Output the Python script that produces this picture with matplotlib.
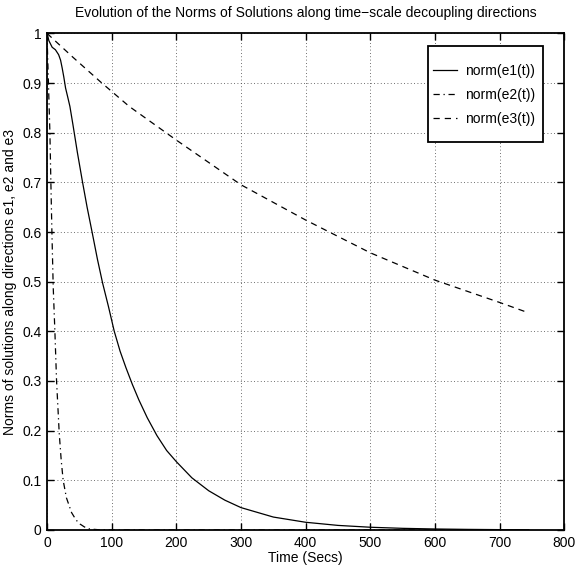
import numpy as np
import matplotlib
matplotlib.use('Agg')
import matplotlib.pyplot as plt
from matplotlib.patches import Rectangle

plt.rcParams['font.family'] = ['Liberation Sans', 'DejaVu Sans']
plt.rcParams['font.size'] = 10

# norm of the solution along each decoupling direction, sampled in time (s)
t_e1 = [0, 3, 8, 13, 18, 21, 23.5, 26, 28.7, 32, 35.4, 40, 47, 55, 62, 70, 78,
        86, 95, 104, 113, 122, 132, 142, 155, 170, 185, 200, 224, 250, 275,
        300, 350, 400, 450, 500, 550, 600, 650, 700, 745]
norm_e1 = [1.0, 0.985, 0.972, 0.967, 0.957, 0.946, 0.93, 0.912, 0.89, 0.872,
           0.853, 0.817, 0.76, 0.70, 0.65, 0.598, 0.545, 0.497, 0.45, 0.40,
           0.36, 0.327, 0.293, 0.262, 0.226, 0.19, 0.16, 0.1375, 0.105, 0.079,
           0.06, 0.045, 0.026, 0.0155, 0.0092, 0.0055, 0.0033, 0.002, 0.0012,
           0.0007, 0.0004]

t_e2 = [0, 2, 4.5, 6, 7.6, 9.6, 12.2, 14.8, 18.9, 22, 25, 30, 38, 45, 51, 58,
        66, 80, 100, 200, 400, 745]
norm_e2 = [1.0, 0.91, 0.80, 0.70, 0.60, 0.49, 0.40, 0.30, 0.195, 0.14, 0.10,
           0.065, 0.035, 0.02, 0.012, 0.006, 0.002, 0.0005, 0.0001, 0.0, 0.0, 0.0]

t_e3 = [0, 40, 83, 127, 200, 300, 400, 500, 600, 700, 745]
norm_e3 = [1.0, 0.952, 0.902, 0.853, 0.785, 0.695, 0.624, 0.558, 0.503, 0.458,
           0.437]

fig = plt.figure(figsize=(5.78, 5.76), dpi=100)
ax = fig.add_axes([0.0813, 0.0799, 0.8953, 0.8622])

ax.plot(t_e1, norm_e1, color='black', linewidth=0.9, linestyle='-', label='norm(e1(t))')
ax.plot(t_e2, norm_e2, color='black', linewidth=0.9, linestyle=(0, (5, 3, 1, 3)), label='norm(e2(t))')
ax.plot(t_e3, norm_e3, color='black', linewidth=0.9, linestyle=(0, (5, 4)), label='norm(e3(t))')

ax.set_xlim(0, 800)
ax.set_ylim(0, 1)
ax.set_xticks(np.arange(0, 801, 100))
ax.set_yticks(np.arange(0, 1.01, 0.1))
ax.set_yticklabels(['0', '0.1', '0.2', '0.3', '0.4', '0.5', '0.6', '0.7', '0.8', '0.9', '1'])

ax.grid(True, color='0.25', linestyle=(0, (1, 3)), linewidth=0.6)
ax.tick_params(direction='in', length=5, width=1.0, top=True, right=True,
               labelsize=10, pad=4)
for sp in ax.spines.values():
    sp.set_linewidth(1.3)

ax.set_title('Evolution of the Norms of Solutions along time\u2212scale decoupling directions',
             fontsize=10, pad=12)
ax.set_xlabel('Time (Secs)', fontsize=10, labelpad=1)
ax.set_ylabel('Norms of solutions along directions e1, e2 and e3', fontsize=10, labelpad=4)

# legend box: wider vertical padding than horizontal, so the frame is drawn separately
ax.add_patch(Rectangle((0.736, 0.7813), 0.2224, 0.1933, transform=ax.transAxes,
                       facecolor='white', edgecolor='black', linewidth=1.3, zorder=3))
leg = ax.legend(loc='upper left', bbox_to_anchor=(0.736, 0.948), borderaxespad=0,
                frameon=False, fontsize=10, handlelength=1.75, handletextpad=0.55,
                labelspacing=0.72, borderpad=0.35)
leg.set_zorder(4)

fig.savefig('out.png', dpi=100)
